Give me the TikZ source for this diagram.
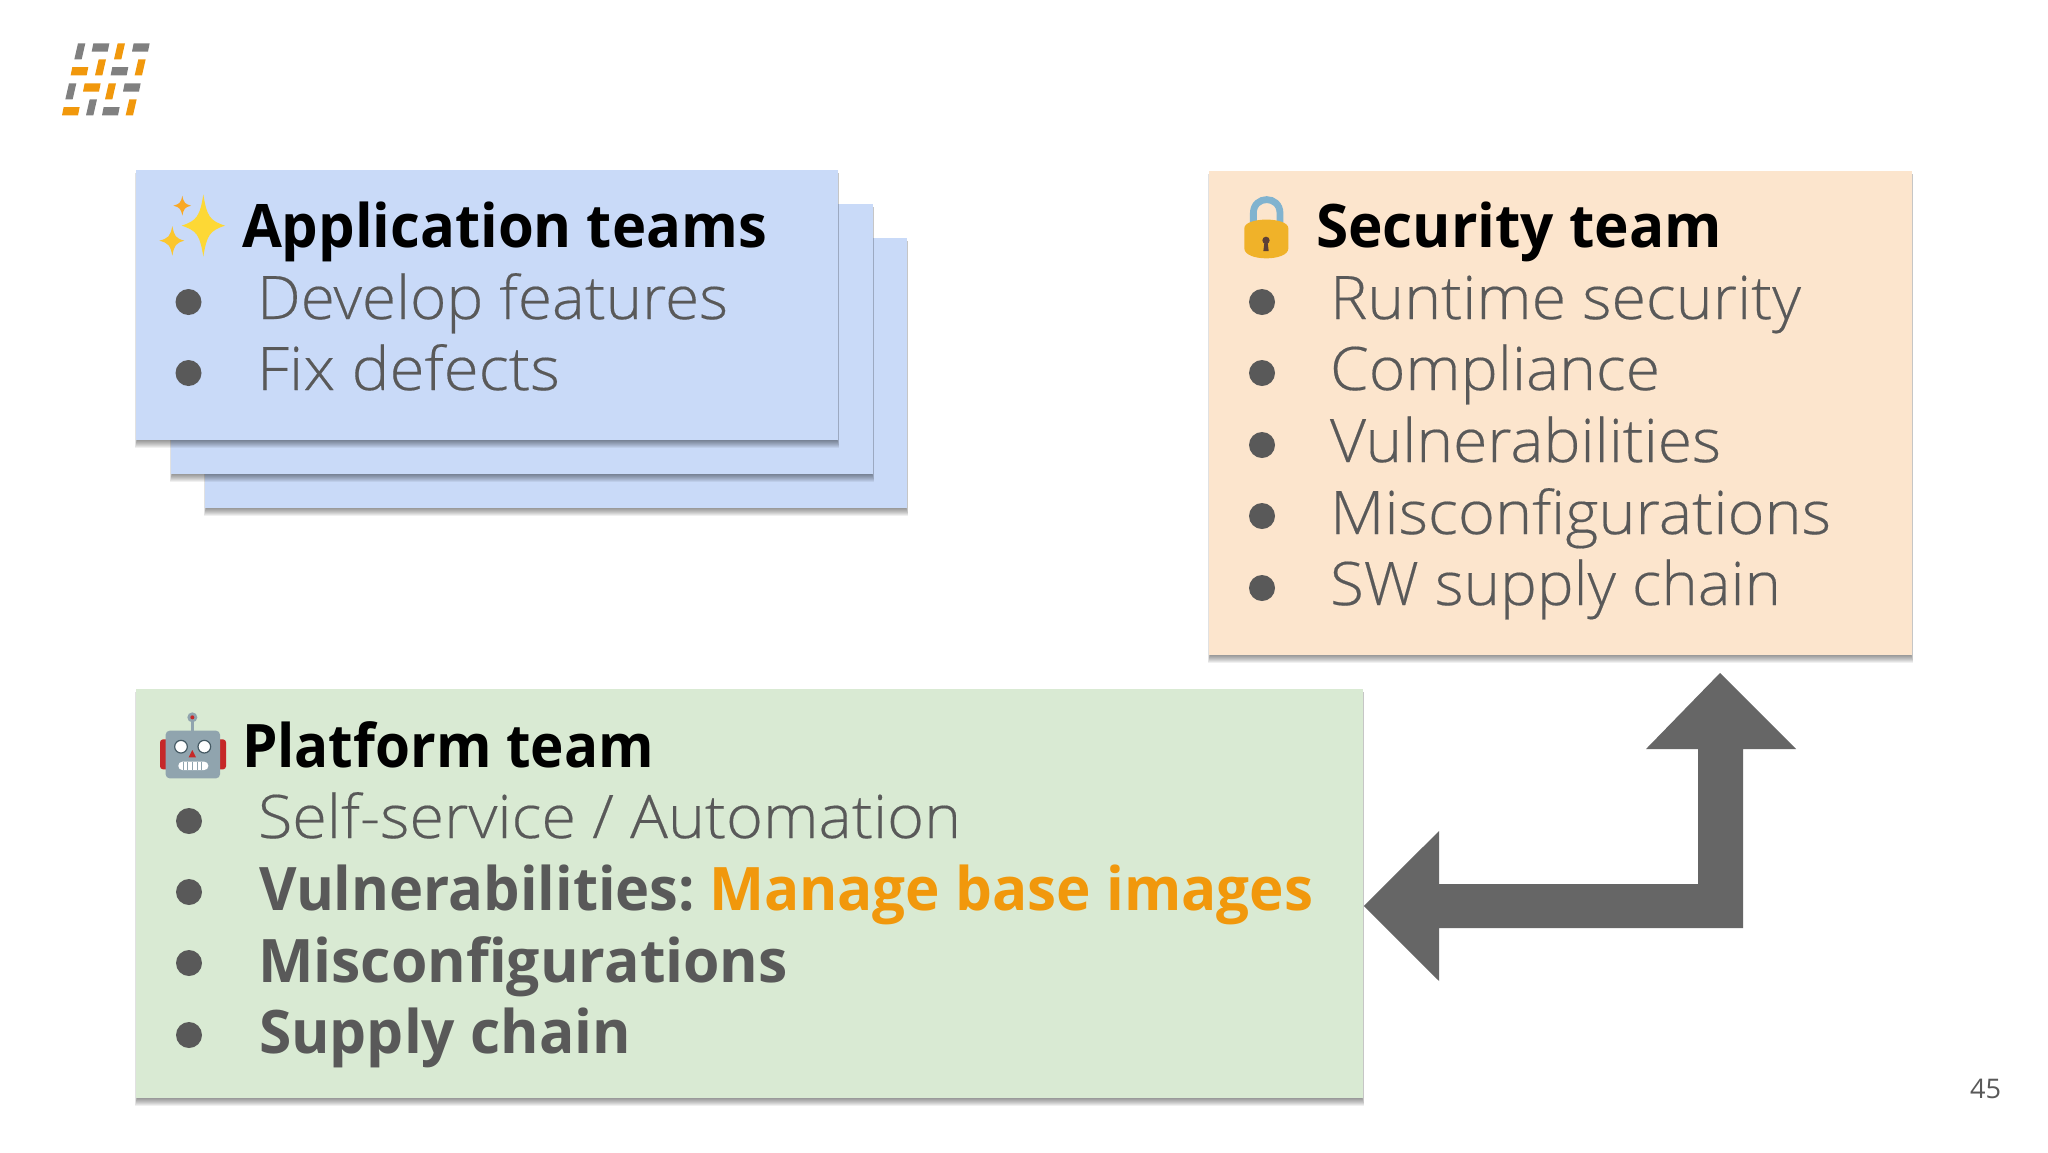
\documentclass[tikz,border=0pt]{standalone}
\usepackage{graphicx}
\usepackage{fontspec}
\setmainfont{Open Sans}
\newfontfamily\lightf{Open Sans Light}[FakeBold=0.3]
\definecolor{txtgray}{HTML}{595959}
\definecolor{bluebox}{HTML}{C9DAF8}
\definecolor{peachbox}{HTML}{FCE5CD}
\definecolor{greenbox}{HTML}{D9EAD3}
\definecolor{arrowgray}{HTML}{666666}
\definecolor{accent}{HTML}{F1980C}
\definecolor{logogray}{HTML}{808080}
\definecolor{sparkbig}{HTML}{FDD835}
\definecolor{sparkleft}{HTML}{FBC62D}
\definecolor{sparktop}{HTML}{F9A825}
\tikzset{
  teambox/.style={rectangle,inner sep=0pt,anchor=north west,draw=none},
  bul/.style={circle,fill=txtgray,inner sep=0pt,minimum size=13pt},
  txt/.style={anchor=base west,inner sep=0pt,outer sep=0pt},
}
% name, x0, y0, x1, y1, colour
\newcommand{\teamcard}[6]{%
  \foreach \i in {8,7,6,5,4,3,2,1}{%
    \fill[black,opacity=.06] (#2+1-\i*.25,#3+3) rectangle (#4+\i*.3-1,#5+\i);}
  \pgfmathsetlengthmacro{\bw}{(#4-#2)*0.5pt}%
  \pgfmathsetlengthmacro{\bh}{(#5-#3)*0.5pt}%
  \node[teambox,fill=#6,minimum width=\bw,minimum height=\bh] (#1) at (#2,#3) {};}
% name, x, baseline, end x, font, text
\newcommand{\textline}[6]{%
  \pgfmathsetlengthmacro{\tw}{(#4-#2)*0.5pt}%
  \node[txt] (#1) at (#2,#3) {\resizebox{\tw}{\height}{\fontsize{30}{30}\selectfont#5#6}};}
\newcommand{\logohoriz}[3]{\fill[#3] (#1+5,#2) -- (#1+53,#2) -- (#1+48,#2+25) -- (#1,#2+25) -- cycle;}
\newcommand{\logovert}[3]{\fill[#3] (#1,#2+48) -- (#1+22,#2+48) -- (#1+33,#2) -- (#1+11,#2) -- cycle;}
% cx cy half extents left right top bottom, colour
\newcommand{\spark}[7]{\fill[#7] (#1,#2-#5)
  .. controls (#1+.16*#4,#2-.3*#5) and (#1+.3*#4,#2-.16*#5) .. (#1+#4,#2)
  .. controls (#1+.3*#4,#2+.16*#6) and (#1+.16*#4,#2+.3*#6) .. (#1,#2+#6)
  .. controls (#1-.16*#3,#2+.3*#6) and (#1-.3*#3,#2+.16*#6) .. (#1-#3,#2)
  .. controls (#1-.3*#3,#2-.16*#5) and (#1-.16*#3,#2-.3*#5) .. cycle;}
\begin{document}
\begin{tikzpicture}[x=0.5pt,y=-0.5pt]
\useasboundingbox (0,0) rectangle (2048,1152);
\fill[white] (0,0) rectangle (2048,1152);

% logo
\begin{scope}[shift={(40,20)},x=0.16667pt,y=-0.16667pt]
\logovert{103}{70}{logogray}\logohoriz{155}{70}{logogray}\logovert{222}{70}{accent}\logohoriz{276}{70}{logogray}
\logohoriz{92}{141}{accent}\logovert{165}{118}{accent}\logohoriz{212}{141}{logogray}\logovert{284}{118}{accent}
\logovert{76}{190}{logogray}\logohoriz{129}{190}{accent}\logovert{195}{190}{accent}\logohoriz{249}{190}{logogray}
\logohoriz{66}{261}{accent}\logovert{138}{238}{logogray}\logohoriz{186}{261}{logogray}\logovert{257}{238}{accent}
\end{scope}

% cards
\teamcard{appC}{205}{238}{907}{508}{bluebox}
\teamcard{appB}{171}{204}{873}{474}{bluebox}
\teamcard{appA}{136}{170}{838}{440}{bluebox}
\teamcard{security}{1209}{171}{1912}{655}{peachbox}
\teamcard{platform}{136}{689}{1363}{1098}{greenbox}

% sparkles
\begin{scope}[shift={(150,185)},x=0.16667pt,y=-0.16667pt]
\spark{97}{62}{27}{26}{30}{30}{sparktop}
\spark{67}{167}{39}{36}{44}{45}{sparkleft}
\spark{160}{122}{65}{65}{94}{93}{sparkbig}
\end{scope}

% lock
\begin{scope}[shift={(1235,185)},x=0.16667pt,y=-0.16667pt]
\draw[color={rgb,255:red,129;green,179;blue,207},line width=3.4pt] (55,120) -- (55,85) .. controls (55,30) and (135,30) .. (135,85) -- (135,120);
\fill[color={rgb,255:red,240;green,178;blue,41}] (28,130) .. controls (28,95) and (160,95) .. (160,130) -- (160,190) .. controls (160,230) and (28,230) .. (28,190) -- cycle;
\fill[color={rgb,255:red,93;green,64;blue,55}] (93,166) circle[radius=11];
\fill[color={rgb,255:red,93;green,64;blue,55}] (89,166) -- (97,166) -- (101,198) -- (85,198) -- cycle;
\end{scope}

% robot
\begin{scope}[shift={(150,700)},x=0.16667pt,y=-0.16667pt]
\fill[color={rgb,255:red,198;green,40;blue,40},rounded corners=1.5pt] (30,118) rectangle (228,208);
\fill[color={rgb,255:red,144;green,164;blue,174}] (122,55) rectangle (132,95);
\fill[color={rgb,255:red,144;green,164;blue,174}] (127,52) circle[radius=15];
\fill[color={rgb,255:red,198;green,40;blue,40}] (127,52) circle[radius=6];
\fill[color={rgb,255:red,144;green,164;blue,174},rounded corners=2pt] (47,92) rectangle (210,235);
\draw[fill=white,draw={rgb,255:red,69;green,90;blue,100},line width=.6pt] (93,140) circle[radius=19];
\draw[fill=white,draw={rgb,255:red,69;green,90;blue,100},line width=.6pt] (163,140) circle[radius=19];
\fill[color={rgb,255:red,198;green,40;blue,40}] (127,150) -- (116,172) -- (138,172) -- cycle;
\fill[white,rounded corners=2pt] (85,185) rectangle (175,210);
\foreach \tx in {99,113,127,141,155}{\fill[color={rgb,255:red,144;green,164;blue,174}] (\tx-1.5,185) rectangle (\tx+1.5,210);}
\end{scope}

% application teams text
\textline{appT}{242}{247}{767}{\bfseries}{Application teams}
\textline{appL1}{257}{319}{728}{\color{txtgray}\lightf}{Develop features}
\textline{appL2}{257}{390}{560}{\color{txtgray}\lightf}{Fix defects}
\node[bul] (appD1) at (188.5,302) {};
\node[bul] (appD2) at (188.5,373) {};

% security text
\textline{secT}{1316}{247}{1722}{\bfseries}{Security team}
\textline{secL1}{1330}{319}{1801}{\color{txtgray}\lightf}{Runtime security}
\textline{secL2}{1330}{390}{1660}{\color{txtgray}\lightf}{Compliance}
\textline{secL3}{1330}{462}{1721}{\color{txtgray}\lightf}{Vulnerabilities}
\textline{secL4}{1330}{534}{1831}{\color{txtgray}\lightf}{Misconfigurations}
\textline{secL5}{1330}{605}{1781}{\color{txtgray}\lightf}{SW supply chain}
\node[bul] (secD1) at (1262,302) {};
\node[bul] (secD2) at (1262,373) {};
\node[bul] (secD3) at (1262,445) {};
\node[bul] (secD4) at (1262,516) {};
\node[bul] (secD5) at (1262,588) {};

% platform text
\textline{plaT}{242}{767}{654}{\bfseries}{Platform team}
\textline{plaL1}{258}{838}{961}{\color{txtgray}\lightf}{Self-service / Automation}
\textline{plaL2a}{259}{910}{695}{\color{txtgray}\bfseries}{Vulnerabilities:}
\textline{plaL2b}{709}{910}{1313}{\color{accent}\bfseries}{Manage base images}
\textline{plaL3}{258}{982}{788}{\color{txtgray}\bfseries}{Misconfigurations}
\textline{plaL4}{259}{1053}{631}{\color{txtgray}\bfseries}{Supply chain}
\node[bul] (plaD1) at (189,821) {};
\node[bul] (plaD2) at (189,892) {};
\node[bul] (plaD3) at (189,963) {};
\node[bul] (plaD4) at (189,1035) {};

% bent double arrow
\coordinate (tipL) at (platform.east |- 0,906);
\coordinate (tipU) at (1720,673);
\fill[arrowgray] (tipU) -- (1796,749) -- (1743,749) -- (1743,928) -- (1439,928) -- (1439,981)
  -- (tipL) -- (1439,831) -- (1439,884) -- (1698,884) -- (1698,749) -- (1646,749) -- cycle;

% page number
\pgfmathsetlengthmacro{\tw}{31*0.5pt}
\node[txt] (pageno) at (1970,1098) {\resizebox{\tw}{\height}{\fontsize{13.5}{13.5}\selectfont\color{txtgray}45}};
\end{tikzpicture}
\end{document}
